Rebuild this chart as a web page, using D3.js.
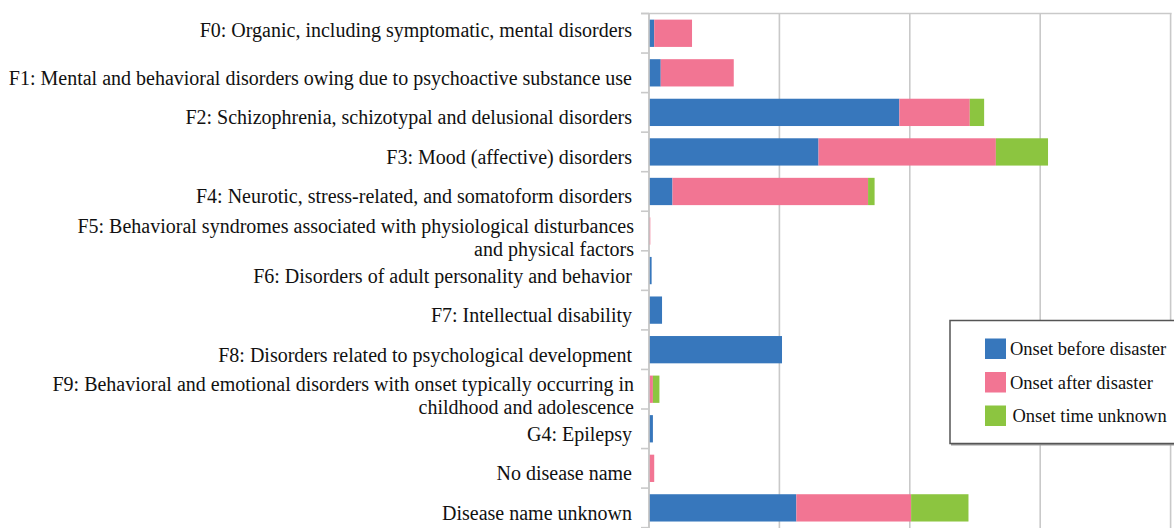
<!DOCTYPE html>
<html><head><meta charset="utf-8">
<script src="https://cdn.jsdelivr.net/npm/d3@7"></script>
<style>body{margin:0;background:#fff;} svg{display:block;}</style>
</head><body>
<svg id="chart" width="1174" height="528"></svg>
<script>
const categories = [
  ["F0: Organic, including symptomatic, mental disorders"],
  ["F1: Mental and behavioral disorders owing due to psychoactive substance use"],
  ["F2: Schizophrenia, schizotypal and delusional disorders"],
  ["F3: Mood (affective) disorders"],
  ["F4: Neurotic, stress-related, and somatoform disorders"],
  ["F5: Behavioral syndromes associated with physiological disturbances", "and physical factors"],
  ["F6: Disorders of adult personality and behavior"],
  ["F7: Intellectual disability"],
  ["F8: Disorders related to psychological development"],
  ["F9: Behavioral and emotional disorders with onset typically occurring in", "childhood and adolescence"],
  ["G4: Epilepsy"],
  ["No disease name"],
  ["Disease name unknown"]
];
const seriesNames = ["Onset before disaster", "Onset after disaster", "Onset time unknown"];
const onsetBefore  = [4, 9, 192, 130, 18, 0, 2, 10, 102, 0, 3, 0, 113];
const onsetAfter   = [29, 56, 54, 136, 150, 1, 0, 0, 0, 3, 0, 4, 88];
const onsetUnknown = [0, 0, 11, 40, 5, 0, 0, 0, 0, 5, 0, 0, 44];
const xTicks = [0, 100, 200, 300, 400];
const colors = ["#3777bc", "#f27593", "#8cc540"];

const svg = d3.select("#chart");
const pLeft = 649, pRight = 1170.6, pTop = 13.5, bandH = 39.55;
const x = d3.scaleLinear().domain([0, 400]).range([pLeft, pRight]);
const y = d3.scaleBand().domain(d3.range(categories.length))
  .range([pTop, pTop + bandH * categories.length]).paddingInner(0.31).paddingOuter(0.155);

const gridColor = "#c9c9c9";
// gridlines
svg.append("g").selectAll("line").data(xTicks).join("line")
  .attr("x1", d => x(d)).attr("x2", d => x(d))
  .attr("y1", pTop).attr("y2", 528)
  .attr("stroke", gridColor).attr("stroke-width", 1.6);
svg.append("line").attr("x1", 641).attr("x2", x(400) + 1).attr("y1", pTop).attr("y2", pTop)
  .attr("stroke", gridColor).attr("stroke-width", 1.6);

// stacked data
const rows = categories.map((c, i) => ({i, v: [onsetBefore[i], onsetAfter[i], onsetUnknown[i]]}));
const stack = d3.stack().keys([0, 1, 2]).value((d, k) => d.v[k]);
const layers = stack(rows);
svg.append("g").selectAll("g").data(layers).join("g")
  .attr("fill", (d, k) => colors[k])
  .selectAll("rect").data(d => d).join("rect")
  .attr("x", d => x(d[0])).attr("width", d => x(d[1]) - x(d[0]))
  .attr("y", d => y(d.data.i)).attr("height", y.bandwidth());

// left axis
svg.append("line").attr("x1", pLeft).attr("x2", pLeft).attr("y1", pTop).attr("y2", 528)
  .attr("stroke", gridColor).attr("stroke-width", 1.6);
svg.append("g").selectAll("line").data(d3.range(categories.length + 1)).join("line")
  .attr("x1", 641).attr("x2", pLeft)
  .attr("y1", i => pTop + i * bandH).attr("y2", i => pTop + i * bandH)
  .attr("stroke", gridColor).attr("stroke-width", 1.6);

// category labels
const lab = svg.append("g").attr("font-family", "'Liberation Serif', 'Times New Roman', serif")
  .attr("font-size", 20).attr("fill", "#111").attr("text-anchor", "end");
categories.forEach((lines, i) => {
  const cy = y(i) + y.bandwidth() / 2;
  const t = lab.append("text");
  if (lines.length === 1) {
    t.append("tspan").attr("x", 632).attr("y", cy + (i === 0 ? 4 : 12)).text(lines[0]);
  } else {
    lines.forEach((s, j) => {
      t.append("tspan").attr("x", 634).attr("y", cy + 2 + j * 22.5).text(s);
    });
  }
});

// legend
const lg = svg.append("g");
lg.append("rect").attr("x", 951).attr("y", 321.5).attr("width", 240).attr("height", 124)
  .attr("fill", "#9a9a9a");
lg.append("rect").attr("x", 950).attr("y", 320.5).attr("width", 240).attr("height", 123)
  .attr("fill", "#fff").attr("stroke", "#555").attr("stroke-width", 1.5);
seriesNames.forEach((s, k) => {
  const yy = 338.5 + k * 33.5;
  lg.append("rect").attr("x", 985).attr("y", yy).attr("width", 21).attr("height", 20.5).attr("fill", colors[k]);
  lg.append("text").attr("x", 1010 + (k === 2 ? 2.5 : 0)).attr("y", yy + 16.5)
    .attr("font-family", "'Liberation Serif', 'Times New Roman', serif")
    .attr("font-size", 18.5).attr("fill", "#111").text(s);
});
</script>
</body></html>
